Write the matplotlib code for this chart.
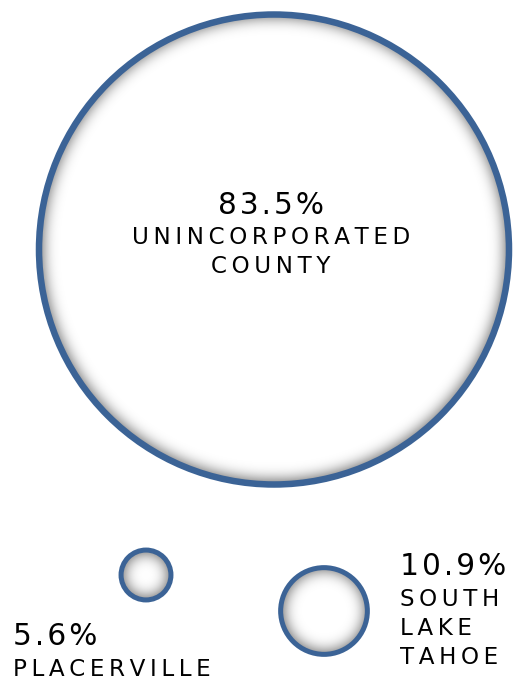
import numpy as np
import matplotlib
matplotlib.use("Agg")
import matplotlib.pyplot as plt
from matplotlib.patches import Circle

# ---- data ----
categories = ["UNINCORPORATED\nCOUNTY", "PLACERVILLE", "SOUTH\nLAKE\nTAHOE"]
shares = [83.5, 5.6, 10.9]

# ---- layout (pixels) ----
centers = [(274, 249.5), (146, 575), (324, 611)]
stroke_px = [6.5, 5.0, 5.0]
text_anchor = [(271, 213.5, "center"), (13, 645, "left"), (400, 575, "left")]
label_offset = 31.0   # first label baseline below number baseline
line_pitch = 28.8

BLUE = "#3B6396"
W, H, DPI = 527, 681, 100
PX2PT = 72.0 / DPI
SIGMA = 7.0
SHADOW = 0.62

plt.rcParams["font.family"] = ["DejaVu Sans"]

fig = plt.figure(figsize=(W / DPI, H / DPI), dpi=DPI)
ax = fig.add_axes([0, 0, 1, 1])
ax.set_xlim(0, W)
ax.set_ylim(H, 0)
ax.set_aspect("equal")
ax.axis("off")

# radius scale
k = 235.0 / (max(shares) ** 0.83)


def radius(v):
    return k * v ** 0.83


def track(s, sp):
    return sp.join(list(s))


def gauss_matrix(n, sigma):
    idx = np.arange(n)
    G = np.exp(-((idx[:, None] - idx[None, :]) ** 2) / (2 * sigma ** 2))
    return G / G.sum(axis=1, keepdims=True)


for (cx, cy), v, lw in zip(centers, shares, stroke_px):
    r = radius(v)
    base = Circle((cx, cy), r, facecolor="white", edgecolor="none", zorder=1)
    ax.add_patch(base)
    # inner shadow: blurred outside-region
    pad = 4 * SIGMA
    x0, x1 = cx - r - pad, cx + r + pad
    y0, y1 = cy - r - pad, cy + r + pad
    n = int(np.ceil(x1 - x0))
    xs = np.linspace(x0, x1, n)
    ys = np.linspace(y0, y1, n)
    X, Y = np.meshgrid(xs, ys)
    d = np.hypot(X - cx, Y - cy)
    outside = (d > r - lw / 2).astype(float)
    G = gauss_matrix(n, SIGMA * n / (x1 - x0))
    blurred = G @ outside @ G.T
    alpha = np.clip(SHADOW * blurred, 0, 1)
    img = np.zeros((n, n, 4))
    img[..., 3] = alpha
    im = ax.imshow(img, extent=(x0, x1, y1, y0), origin="upper",
                   interpolation="bilinear", zorder=2)
    im.set_clip_path(base)
    ring = Circle((cx, cy), r, facecolor="none", edgecolor=BLUE,
                  linewidth=lw * PX2PT, zorder=3)
    ax.add_patch(ring)

num_size = 29.6 * PX2PT
lab_size = 23.0 * PX2PT
for (tx, ty, ha), v, lab in zip(text_anchor, shares, categories):
    ax.text(tx, ty, track(f"{v:.1f}%", "\u200a"), fontsize=num_size,
            ha=ha, va="baseline", color="black", zorder=5)
    for i, line in enumerate(lab.split("\n")):
        ax.text(tx, ty + label_offset + i * line_pitch, track(line, "\u2009"),
                fontsize=lab_size, ha=ha, va="baseline", color="black",
                zorder=5)

fig.savefig("out.png", dpi=DPI, facecolor="white")
